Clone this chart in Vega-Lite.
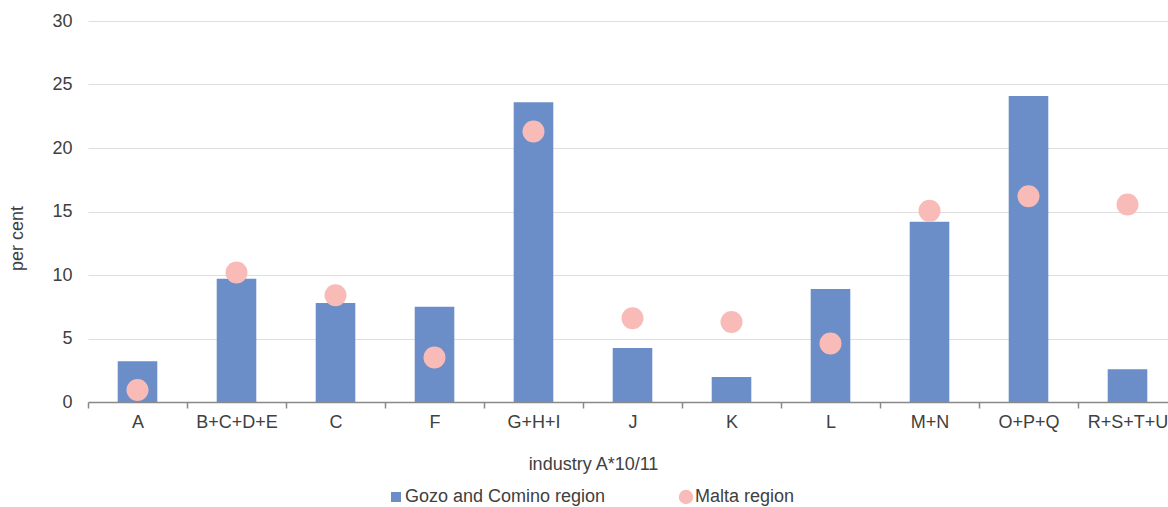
{
  "$schema": "https://vega.github.io/schema/vega-lite/v6.json",
  "width": 1089,
  "height": 381,
  "autosize": "none",
  "padding": {"left": 88, "top": 21, "right": -9, "bottom": 105},
  "background": "white",
  "config": {
    "view": {"stroke": null},
    "font": "Liberation Sans",
    "axis": {"labelColor": "#404040", "titleColor": "#404040", "labelFont": "Liberation Sans", "titleFont": "Liberation Sans", "labelFontSize": 18, "titleFontSize": 18, "titleFontWeight": "normal"},
    "legend": {"labelColor": "#404040", "labelFont": "Liberation Sans", "labelFontSize": 18, "labelLimit": 0}
  },
  "data": {
    "values": [
      {"industry": "A", "region": "Gozo and Comino region", "value": 3.2},
      {"industry": "B+C+D+E", "region": "Gozo and Comino region", "value": 9.7},
      {"industry": "C", "region": "Gozo and Comino region", "value": 7.8},
      {"industry": "F", "region": "Gozo and Comino region", "value": 7.5},
      {"industry": "G+H+I", "region": "Gozo and Comino region", "value": 23.6},
      {"industry": "J", "region": "Gozo and Comino region", "value": 4.25},
      {"industry": "K", "region": "Gozo and Comino region", "value": 1.97},
      {"industry": "L", "region": "Gozo and Comino region", "value": 8.9},
      {"industry": "M+N", "region": "Gozo and Comino region", "value": 14.2},
      {"industry": "O+P+Q", "region": "Gozo and Comino region", "value": 24.1},
      {"industry": "R+S+T+U", "region": "Gozo and Comino region", "value": 2.57},
      {"industry": "A", "region": "Malta region", "value": 0.94},
      {"industry": "B+C+D+E", "region": "Malta region", "value": 10.2},
      {"industry": "C", "region": "Malta region", "value": 8.4},
      {"industry": "F", "region": "Malta region", "value": 3.5},
      {"industry": "G+H+I", "region": "Malta region", "value": 21.3},
      {"industry": "J", "region": "Malta region", "value": 6.6},
      {"industry": "K", "region": "Malta region", "value": 6.3},
      {"industry": "L", "region": "Malta region", "value": 4.6},
      {"industry": "M+N", "region": "Malta region", "value": 15.05},
      {"industry": "O+P+Q", "region": "Malta region", "value": 16.2},
      {"industry": "R+S+T+U", "region": "Malta region", "value": 15.55}
    ]
  },
  "encoding": {
    "x": {
      "field": "industry",
      "type": "nominal",
      "sort": ["A", "B+C+D+E", "C", "F", "G+H+I", "J", "K", "L", "M+N", "O+P+Q", "R+S+T+U"],
      "scale": {"paddingInner": 0, "paddingOuter": 0},
      "axis": {
        "title": "industry A*10/11",
        "labelAngle": 0,
        "domainColor": "#898989",
        "domainWidth": 1.5,
        "tickColor": "#898989",
        "tickWidth": 1.5,
        "tickSize": 6,
        "tickBand": "extent",
        "labelPadding": 5,
        "titleX": 505,
        "titleAlign": "center",
        "titleY": 62,
        "titleBaseline": "middle",
        "grid": false
      }
    }
  },
  "layer": [
    {
      "transform": [{"filter": "datum.region === 'Gozo and Comino region'"}],
      "mark": {"type": "bar", "width": {"band": 0.4}},
      "encoding": {
        "y": {
          "field": "value",
          "type": "quantitative",
          "scale": {"domain": [0, 30], "nice": false},
          "axis": {
            "values": [0, 5, 10, 15, 20, 25, 30],
            "title": "per cent",
            "titleAngle": -90,
            "titleX": -71,
            "titleY": 217,
            "titleAlign": "center",
            "titleBaseline": "middle",
            "domain": false,
            "ticks": false,
            "labelPadding": 16,
            "gridColor": "#dedede",
            "gridWidth": 1
          }
        },
        "color": {
          "field": "region",
          "type": "nominal",
          "scale": {"domain": ["Gozo and Comino region", "Malta region"], "range": ["#6b8ec8", "#f9bbb7"]},
          "legend": {
            "orient": "none",
            "legendX": 299,
            "legendY": 467,
            "direction": "horizontal",
            "title": null,
            "symbolSize": 196,
            "symbolOpacity": 1,
            "symbolStrokeWidth": 0,
            "columnPadding": 71,
            "labelOffset": 0,
            "encode": {
              "symbols": {
                "update": {
                  "shape": {"signal": "datum.value === 'Malta region' ? 'circle' : 'square'"},
                  "size": {"signal": "datum.value === 'Malta region' ? 210 : 100"}
                }
              }
            }
          }
        }
      }
    },
    {
      "transform": [{"filter": "datum.region === 'Malta region'"}],
      "mark": {"type": "point", "shape": "circle", "filled": true, "opacity": 1, "size": 484},
      "encoding": {
        "y": {"field": "value", "type": "quantitative"},
        "color": {"field": "region", "type": "nominal"}
      }
    }
  ]
}
